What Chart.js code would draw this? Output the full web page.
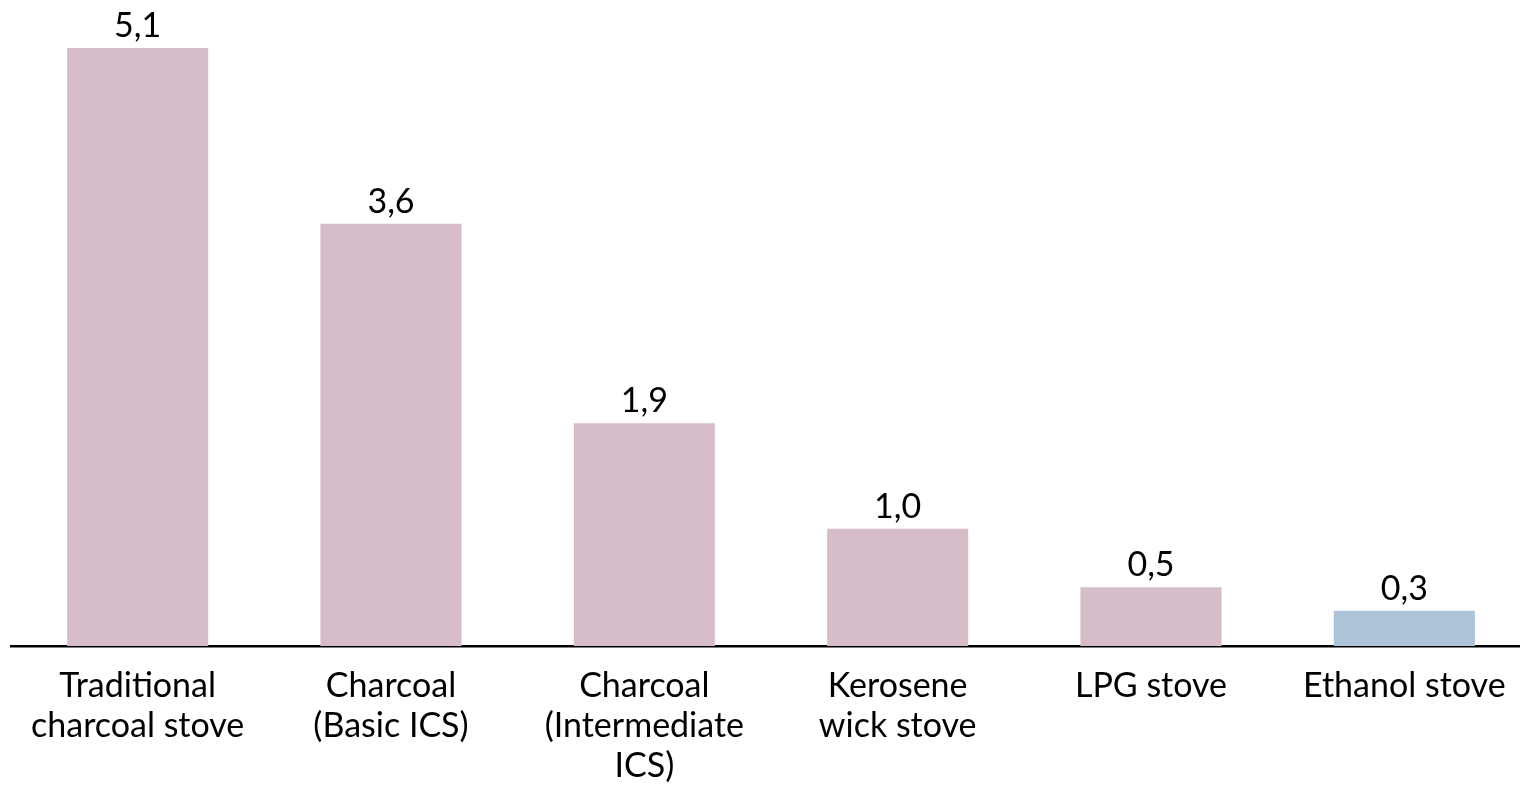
<!DOCTYPE html>
<html lang="en">
<head>
    <meta charset="UTF-8">
    <title>Stoves</title>
    <script src="https://cdn.jsdelivr.net/npm/chart.js"></script>
    <style>
        body { margin: 0; overflow: hidden; background: #fff; }
    </style>
</head>
<body>

<div style="width: 1531px; height: 791px;">
    <canvas id="chart"></canvas>
</div>

<script>
    // categories (multi-line labels) and values
    const stoves = [
        ['Traditional', 'charcoal stove'],
        ['Charcoal', '(Basic ICS)'],
        ['Charcoal', '(Intermediate', 'ICS)'],
        ['Kerosene', 'wick stove'],
        ['LPG stove'],
        ['Ethanol stove']
    ];
    const values = [5.1, 3.6, 1.9, 1.0, 0.5, 0.3];
    const barColors = ['#D7BDCA', '#D7BDCA', '#D7BDCA', '#D7BDCA', '#D7BDCA', '#ADC3D8'];

    const FONT = 'Lato, "Open Sans", sans-serif';
    const FONT_SIZE = 34;

    // value labels above the bars, decimal comma
    const valueLabels = {
        id: 'valueLabels',
        afterDatasetsDraw(chart) {
            const ctx = chart.ctx;
            const meta = chart.getDatasetMeta(0);
            ctx.save();
            ctx.font = FONT_SIZE + 'px ' + FONT;
            ctx.fillStyle = '#000';
            ctx.textAlign = 'center';
            ctx.textBaseline = 'alphabetic';
            meta.data.forEach((bar, i) => {
                ctx.fillText(values[i].toFixed(1).replace('.', ','), bar.x, bar.y - 11);
            });
            ctx.restore();
        }
    };

    const ctx = document.getElementById('chart').getContext('2d');
    new Chart(ctx, {
        type: 'bar',
        data: {
            labels: stoves,
            datasets: [{
                data: values,
                backgroundColor: barColors,
                barPercentage: 0.557,
                categoryPercentage: 1.0
            }]
        },
        options: {
            responsive: true,
            maintainAspectRatio: false,
            animation: false,
            layout: {
                padding: { left: 11, right: 0, top: 1, bottom: -15 }
            },
            plugins: {
                legend: { display: false },
                tooltip: { enabled: false }
            },
            scales: {
                x: {
                    grid: { display: false, drawTicks: false },
                    border: { display: true, color: '#000', width: 2.5 },
                    ticks: {
                        color: '#000',
                        padding: 20,
                        maxRotation: 0,
                        autoSkip: false,
                        font: { family: FONT, size: FONT_SIZE, lineHeight: '40px' }
                    }
                },
                y: {
                    display: false,
                    min: 0,
                    max: 5.5
                }
            }
        },
        plugins: [valueLabels]
    });
</script>
</body>
</html>
